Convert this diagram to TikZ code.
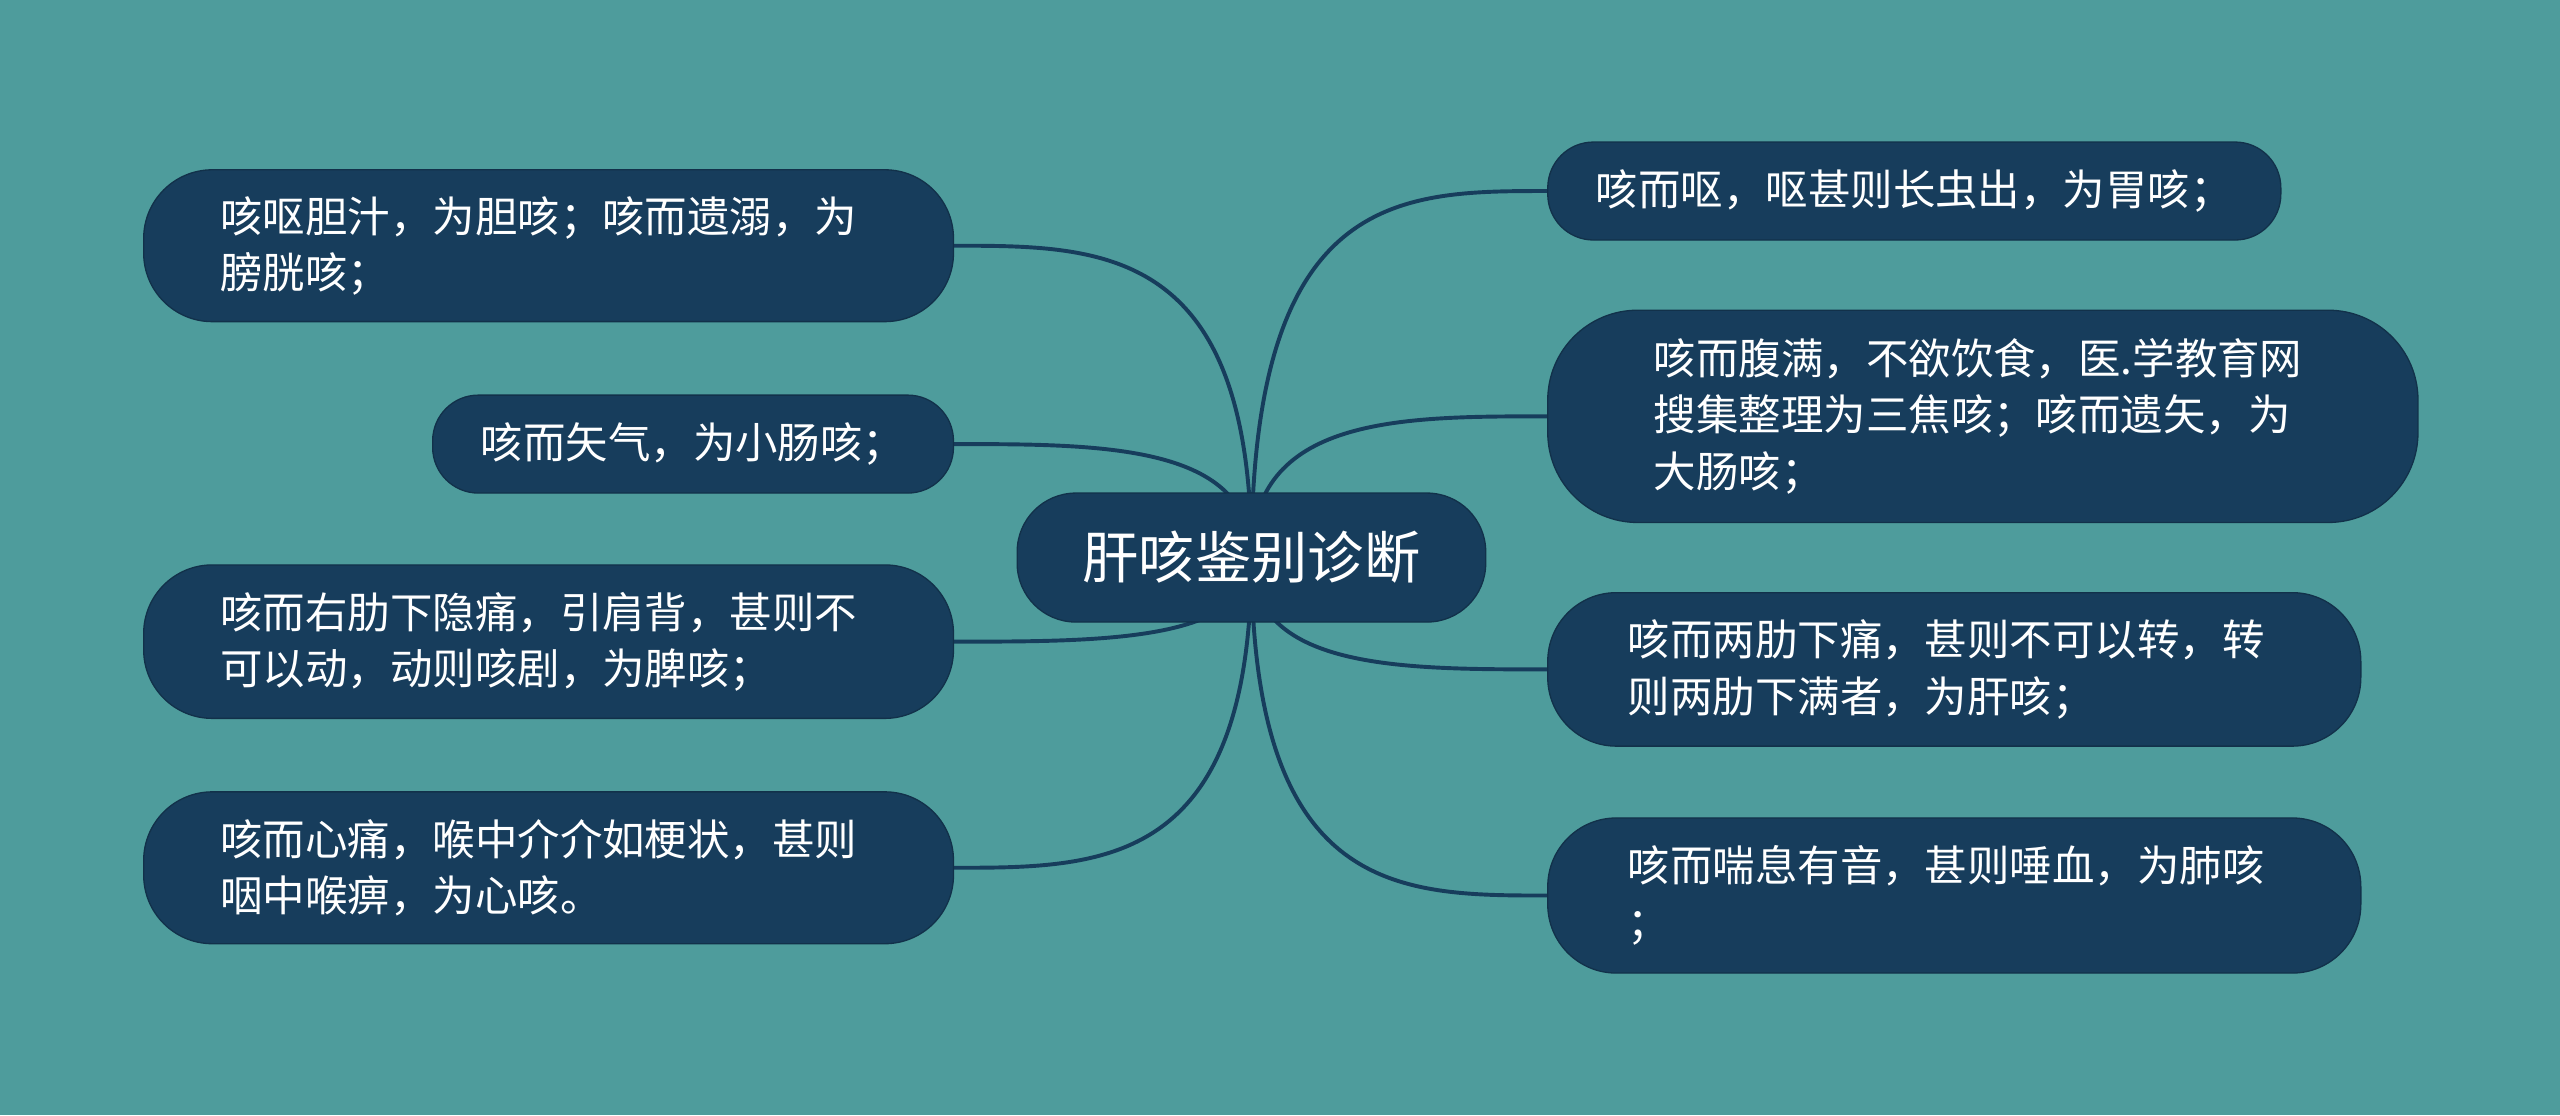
\documentclass[tikz,border=0pt]{standalone}
\usepackage{fontspec}
\setmainfont{Noto Sans CJK SC}
\usetikzlibrary{calc}
\pgfdeclarelayer{bg}
\pgfsetlayers{bg,main}
\definecolor{bgc}{HTML}{4E9C9C}
\definecolor{nodec}{HTML}{173D5C}
\definecolor{linec}{HTML}{173D5C}
\begin{document}
\begin{tikzpicture}[x=1pt,y=-1pt,
  leaf/.style={fill=nodec, draw=nodec!80!black, line width=0.8pt, text=white,
    inner sep=0pt, align=left, font=\fontsize{26pt}{34.5pt}\selectfont},
  root/.style={fill=nodec, draw=nodec!80!black, line width=0.8pt, text=white,
    inner sep=0pt, font=\fontsize{34.5pt}{40pt}\selectfont,
    minimum width=287pt, minimum height=79pt, rounded corners=36pt},
  big/.style={minimum width=496pt, minimum height=93pt, rounded corners=42pt},
  small/.style={minimum height=60pt, rounded corners=28pt},
  link/.style={draw=linec, line width=2.4pt}]
\useasboundingbox (0,0) rectangle (1568,683);

\node[root] (c) at (766.5,341.5) {肝咳鉴别诊断};

\node[leaf,big,text width=402pt] (l1) at (336,150.5) {咳呕胆汁，为胆咳；咳而遗溺，为\\膀胱咳；};
\node[leaf,small,minimum width=319pt] (l2) at (424.5,272) {咳而矢气，为小肠咳；};
\node[leaf,big,minimum height=94pt,text width=402pt] (l3) at (336,393) {咳而右肋下隐痛，引肩背，甚则不\\可以动，动则咳剧，为脾咳；};
\node[leaf,big,text width=402pt] (l4) at (336,531.5) {咳而心痛，喉中介介如梗状，甚则\\咽中喉痹，为心咳。};

\node[leaf,small,minimum width=449pt] (r1) at (1172.5,117) {咳而呕，呕甚则长虫出，为胃咳；};
\node[leaf,minimum width=533pt,minimum height=130pt,rounded corners=55pt,text width=403pt] (r2) at (1214.5,255) {咳而腹满，不欲饮食，医.学教育网\\搜集整理为三焦咳；咳而遗矢，为\\大肠咳；};
\node[leaf,minimum width=498pt,minimum height=94pt,rounded corners=42pt,text width=400pt] (r3) at (1197,410) {咳而两肋下痛，甚则不可以转，转\\则两肋下满者，为肝咳；};
\node[leaf,minimum width=498pt,minimum height=95pt,rounded corners=42pt,text width=400pt] (r4) at (1197,548.5) {咳而喘息有音，甚则唾血，为肺咳\\；};

\begin{pgfonlayer}{bg}
\fill[bgc] (0,0) rectangle (1568,683);
\foreach \n/\a in {l1/east,l2/east,l3/east,l4/east,r1/west,r2/west,r3/west,r4/west}{
  \draw[link] (c.center) .. controls (c.center |- \n.\a) and ($(c.center |- \n.\a)!0.5!(\n.\a)$) .. (\n.\a);
}
\end{pgfonlayer}
\end{tikzpicture}
\end{document}
